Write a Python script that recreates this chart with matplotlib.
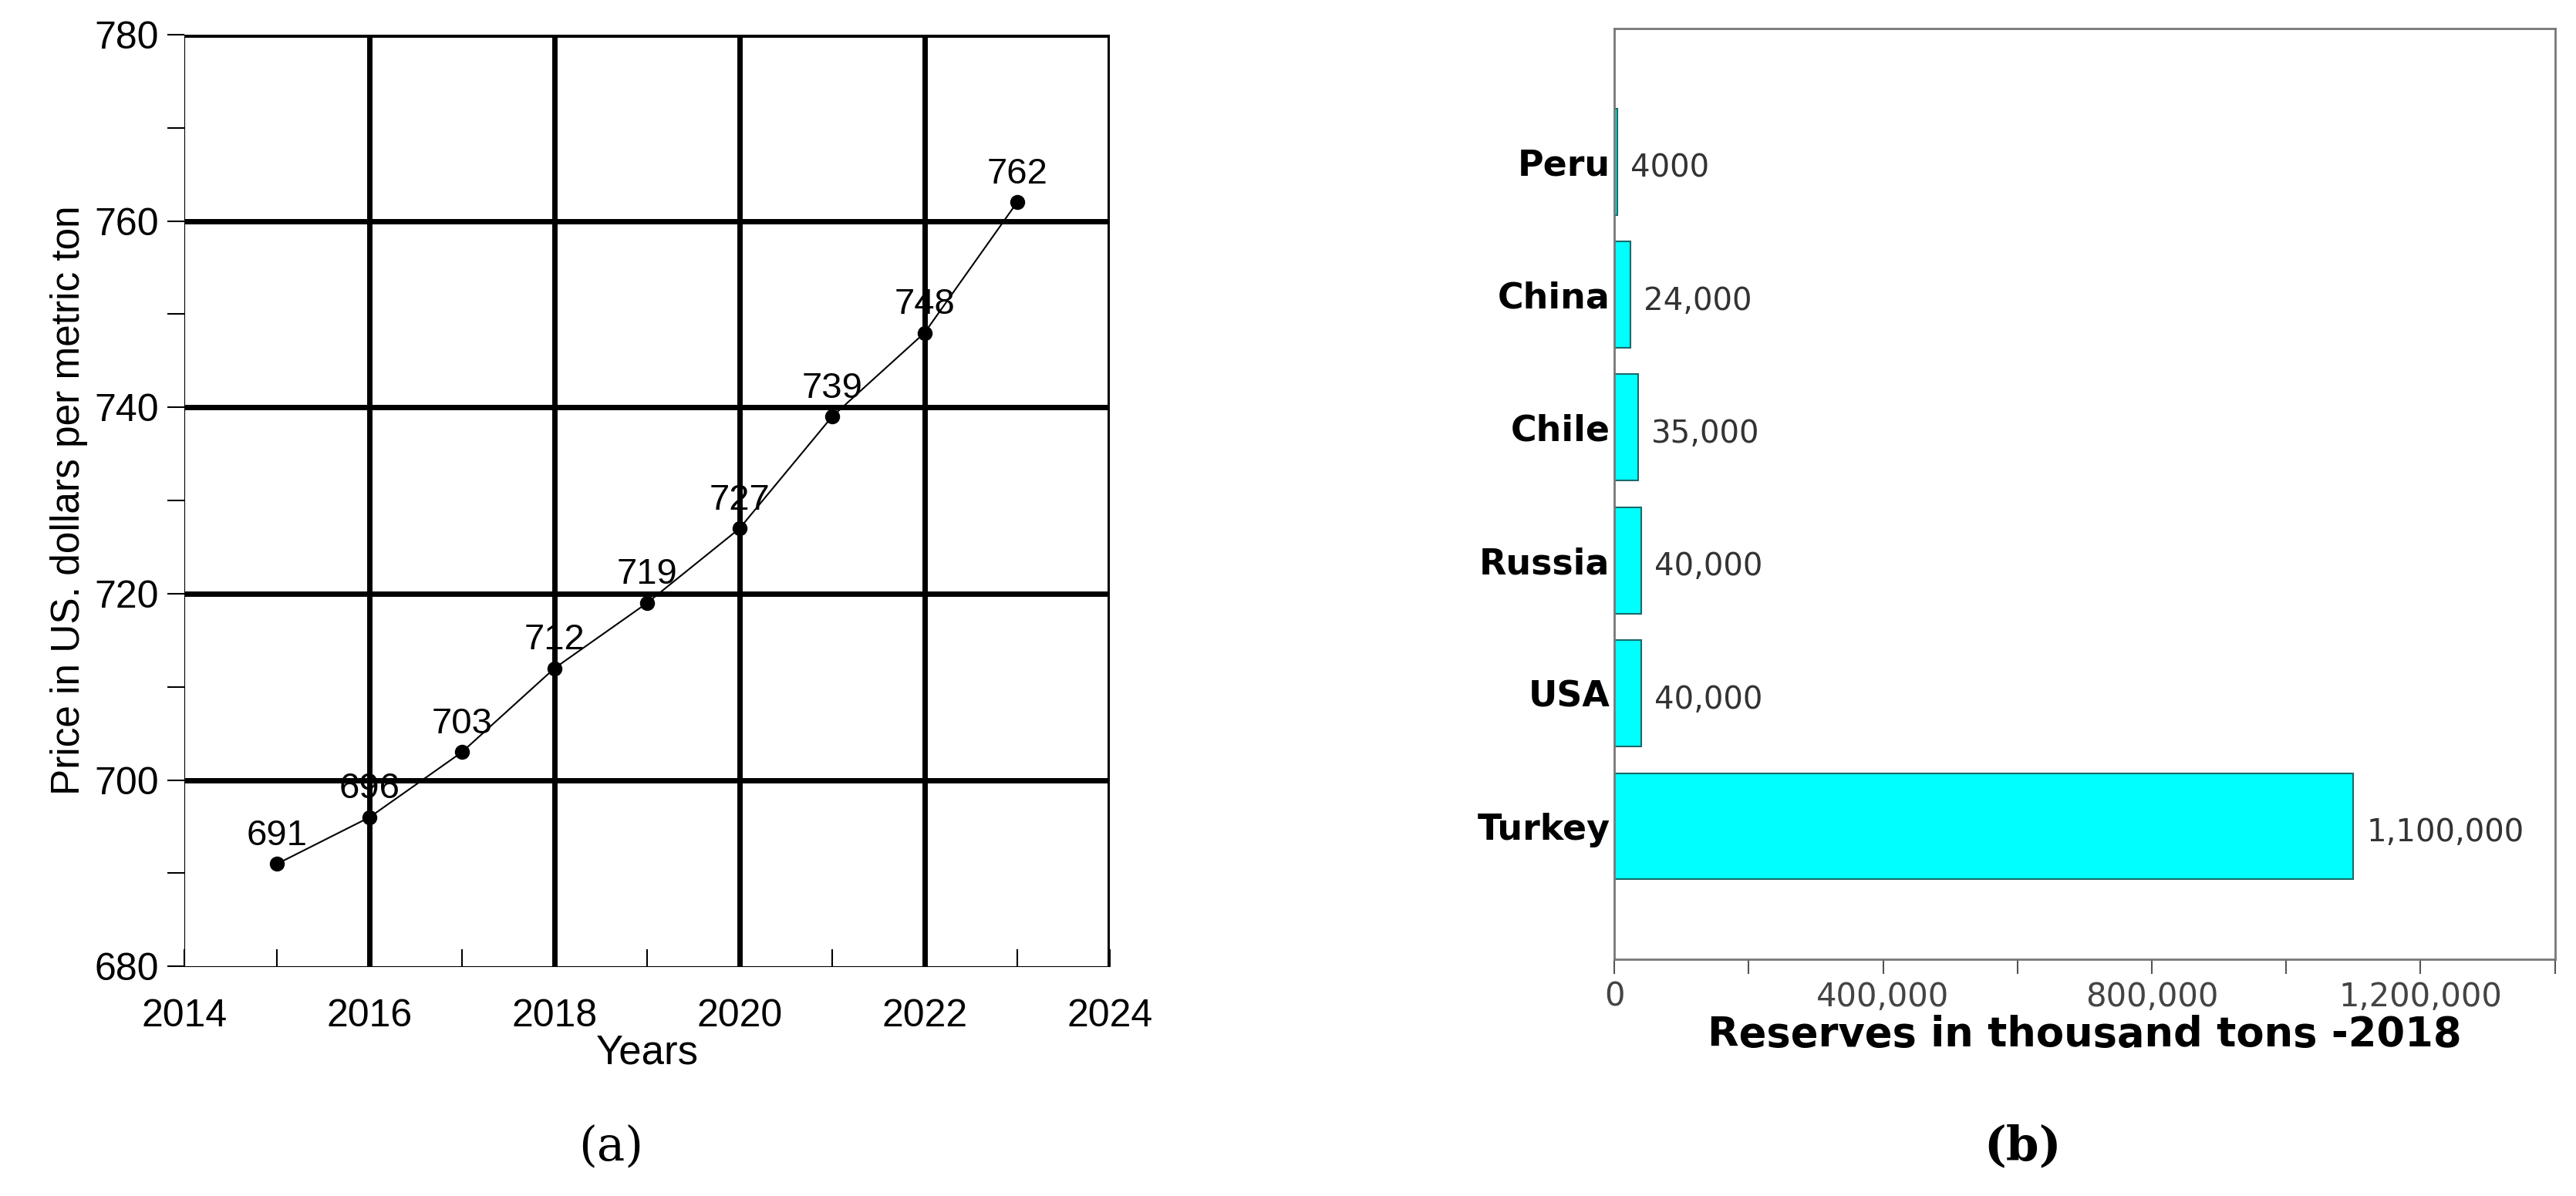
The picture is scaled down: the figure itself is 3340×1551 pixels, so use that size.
import matplotlib.pyplot as plt
from matplotlib.ticker import MultipleLocator, FuncFormatter

years = [2015, 2016, 2017, 2018, 2019, 2020, 2021, 2022, 2023]
prices = [691, 696, 703, 712, 719, 727, 739, 748, 762]

countries = ['Turkey', 'USA', 'Russia', 'Chile', 'China', 'Peru']
reserves = [1100000, 40000, 40000, 35000, 24000, 4000]
reserve_labels = ['1,100,000', '40,000', '40,000', '35,000', '24,000', '4000']

fig = plt.figure(figsize=(33.41, 15.51), dpi=100)
fig.patch.set_facecolor('white')

# (a) price line
ax1 = fig.add_axes([0.0716, 0.192, 0.359, 0.779])
ax1.plot(years, prices, '-', color='black', lw=1.5, marker='o', ms=13, zorder=3)
for x, y in zip(years, prices):
    ax1.text(x, y + 1.2, str(y), ha='center', va='bottom', fontsize=34, family='Liberation Sans')
ax1.set_xlim(2014, 2024)
ax1.set_ylim(680, 780)
ax1.xaxis.set_major_locator(MultipleLocator(2))
ax1.xaxis.set_minor_locator(MultipleLocator(1))
ax1.yaxis.set_major_locator(MultipleLocator(20))
ax1.yaxis.set_minor_locator(MultipleLocator(10))
for v in range(2016, 2025, 2):
    ax1.axvline(v, color='black', lw=5, zorder=1)
for v in range(700, 781, 20):
    ax1.axhline(v, color='black', lw=5, zorder=1)
for s in ['top', 'right']:
    ax1.spines[s].set_visible(False)
ax1.tick_params(which='major', length=16, width=1.5, labelsize=36, pad=8)
ax1.tick_params(which='minor', length=16, width=1.5)
ax1.tick_params(axis='y', direction='out')
ax1.tick_params(axis='x', direction='in', pad=30)
ax1.tick_params(axis='x', which='minor', direction='in')
for lab in ax1.get_xticklabels() + ax1.get_yticklabels():
    lab.set_family('Liberation Sans')
ax1.set_xlabel('Years', fontsize=38, family='Liberation Sans', labelpad=0)
ax1.set_ylabel('Price in US. dollars per metric ton', fontsize=37, family='Liberation Sans', labelpad=6)

# (b) reserves bars
ax2 = fig.add_axes([0.6265, 0.198, 0.365, 0.778])
ypos = list(range(len(countries)))
ax2.barh(ypos, reserves, height=0.8, color='#00FFFF', edgecolor='#1a6a6a', lw=1.5)
for y, v, t in zip(ypos, reserves, reserve_labels):
    ax2.text(v + 20000, y - 0.05, t, va='center', ha='left', fontsize=29, color='#333333')
ax2.set_xlim(0, 1400000)
ax2.set_ylim(-1, 6)
ax2.set_yticks(ypos)
ax2.set_yticklabels(countries, fontsize=33, fontweight='bold')
ax2.xaxis.set_major_locator(MultipleLocator(200000))
ax2.xaxis.set_major_formatter(FuncFormatter(
    lambda v, p: '0' if v == 0 else (f'{int(v):,}' if v % 400000 == 0 else '')))
ax2.tick_params(axis='y', length=0, pad=4)
ax2.tick_params(axis='x', length=14, width=1.5, color='#555555', labelsize=30,
                labelcolor='#444444', pad=6)
ax2.get_xticklabels()[0].set_fontweight('bold')
for s in ax2.spines.values():
    s.set_color('#777777')
    s.set_linewidth(2)
ax2.set_xlabel('Reserves in thousand tons -2018', fontsize=38, fontweight='bold', labelpad=2)

fig.text(0.237, 0.03, '(a)', ha='center', fontsize=44, family='DejaVu Serif')
fig.text(0.785, 0.03, '(b)', ha='center', fontsize=44, family='DejaVu Serif', fontweight='bold')

fig.savefig('out.png', dpi=100)
